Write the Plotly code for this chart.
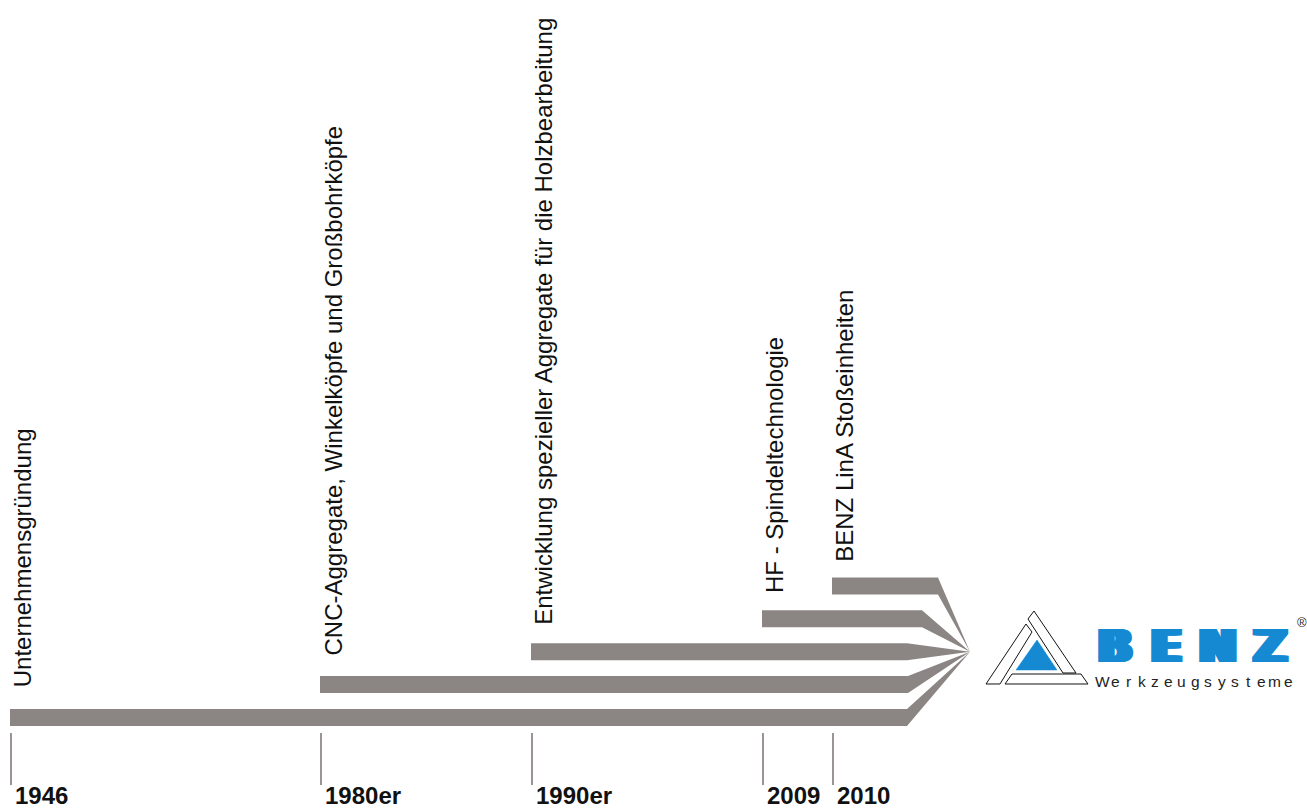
import plotly.graph_objects as go

# ---------------- data ----------------
years = ["1946", "1980er", "1990er", "2009", "2010"]
events = [
    "Unternehmensgründung",
    "CNC-Aggregate, Winkelköpfe und Großbohrköpfe",
    "Entwicklung spezieller Aggregate für die Holzbearbeitung",
    "HF - Spindeltechnologie",
    "BENZ LinA Stoßeinheiten",
]
# timeline position (axis units) where each milestone starts
x_start = [10, 320, 531, 762, 832]
# position where each stream bends toward the common tip
x_bend = [907, 908, 907, 922, 938]
lanes = [0, 1, 2, 3, 4]
tip = (970, 2)

BAR = "#8b8684"
TICK = "#9a9593"
BLUE = "#1589d2"
FONT = "Liberation Sans, Arial, Helvetica, sans-serif"

W, H = 1307, 808
LANE_PX = 32.9
half = 8.5 / LANE_PX
y_lo = -(H - 717.5) / LANE_PX
y_hi = 717.5 / LANE_PX

fig = go.Figure()

# streams
for xs, xb, ln in zip(x_start, x_bend, lanes):
    px_ = [xs, xb, tip[0], xb, xs, xs]
    py_ = [ln + half, ln + half, tip[1], ln - half, ln - half, ln + half]
    fig.add_trace(go.Scatter(x=px_, y=py_, fill="toself", fillcolor=BAR,
                             mode="lines", line=dict(width=0, color=BAR),
                             hoverinfo="skip", showlegend=False))

# tick marks
tx, ty = [], []
for xs in x_start:
    tx += [xs + 1, xs + 1, None]
    ty += [-0.47, -2.05, None]
fig.add_trace(go.Scatter(x=tx, y=ty, mode="lines", line=dict(color=TICK, width=2),
                         hoverinfo="skip", showlegend=False))

annotations = []
# year labels
for xs, yr in zip(x_start, years):
    annotations.append(dict(x=xs + 3, y=0, xref="x", yref="paper", xanchor="left",
                            yanchor="bottom", yshift=-3, showarrow=False,
                            text="<b>" + yr + "</b>",
                            font=dict(family=FONT, size=24, color="#111111")))
# event labels (vertical)
for xs, ln, ev in zip(x_start, lanes, events):
    annotations.append(dict(x=xs, y=ln + half + 0.6 - 0.05 * ln, xref="x", yref="y",
                            xanchor="left", yanchor="bottom", textangle=-90,
                            xshift=-3, showarrow=False, text=ev,
                            font=dict(family=FONT, size=24, color="#111111")))

# ---------------- logo ----------------
def P(x, y):
    return x / W, 1 - y / H

def path(pts):
    s = ""
    for i, (x, y) in enumerate(pts):
        a, b = P(x, y)
        s += ("M" if i == 0 else "L") + f"{a:.5f},{b:.5f} "
    return s + "Z"

shapes = []
logo_polys = [
    [(1034, 611), (1076, 673), (1063, 673), (1028, 619)],          # right strip
    [(986, 684), (1026, 624), (1032, 632), (1000, 684)],           # left strip
    [(1005, 684), (1012, 674), (1081, 674), (1088, 684)],          # base strip
]
for poly in logo_polys:
    shapes.append(dict(type="path", xref="paper", yref="paper", path=path(poly),
                       line=dict(color="#111111", width=1), fillcolor="white"))
shapes.append(dict(type="path", xref="paper", yref="paper",
                   path=path([(1037, 640), (1016, 670), (1057, 670)]),
                   line=dict(color=BLUE, width=0.5), fillcolor=BLUE))

# heavy extended "BENZ" wordmark: horizontal text-shadow smear widens each glyph
smear = ", ".join(f"{d}px 0px 0px {BLUE}" for d in (-4, -3, -2, -1, 1, 2, 3, 4))
for ch, cx in zip("BENZ", [1115, 1166, 1218, 1270]):
    a, b = P(cx, 646)
    annotations.append(dict(x=a, y=b, xref="paper", yref="paper", xanchor="center",
                            yanchor="middle", showarrow=False, text="<b>" + ch + "</b>",
                            font=dict(family="DejaVu Sans", size=45, color=BLUE,
                                      shadow=smear)))
word = "Werkzeugsysteme"
n = len(word)
for i, ch in enumerate(word):
    cx = 1102 + i * (1288 - 1102) / (n - 1)
    a, b = P(cx, 681.5)
    annotations.append(dict(x=a, y=b, xref="paper", yref="paper", xanchor="center",
                            yanchor="middle", showarrow=False, text=ch,
                            font=dict(family=FONT, size=15.5, color="#222222")))
a, b = P(1302, 622)
annotations.append(dict(x=a, y=b, xref="paper", yref="paper", xanchor="center",
                        yanchor="middle", showarrow=False, text="®",
                        font=dict(family=FONT, size=13, color="#222222")))

fig.update_layout(
    width=W, height=H, margin=dict(l=0, r=0, t=0, b=0),
    paper_bgcolor="white", plot_bgcolor="white",
    xaxis=dict(range=[0, W], visible=False, fixedrange=True),
    yaxis=dict(range=[y_lo, y_hi], visible=False, fixedrange=True),
    annotations=annotations, shapes=shapes, showlegend=False,
)

fig.write_html("out.html", config={"displayModeBar": False},
               post_script="document.body.style.margin='0px';document.body.style.overflow='hidden';")
